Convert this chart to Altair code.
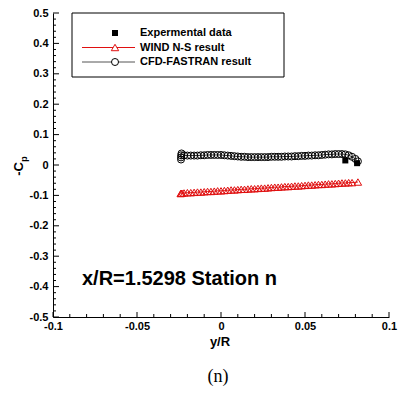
import altair as alt
import pandas as pd

W, H = 336, 304
FONT = "Liberation Sans"

# ---------------- data ----------------
cfd_x = [-0.0238, -0.0238, -0.0237, -0.0235,
         -0.022, -0.020, -0.018, -0.016, -0.014, -0.012, -0.010, -0.008, -0.006, -0.004,
         -0.002, 0.000, 0.002, 0.004, 0.006, 0.008, 0.010, 0.012, 0.014, 0.016, 0.018,
         0.020, 0.022, 0.024, 0.026, 0.028, 0.030, 0.032, 0.034, 0.036, 0.038, 0.040,
         0.042, 0.044, 0.046, 0.048, 0.050, 0.052, 0.054, 0.056, 0.058, 0.060, 0.062,
         0.064, 0.066, 0.068, 0.070, 0.072, 0.074, 0.076, 0.078, 0.080, 0.0815]
cfd_cp = [0.018, 0.025, 0.032, 0.038,
          0.032, 0.031, 0.031, 0.031, 0.031, 0.032, 0.032, 0.033, 0.033, 0.033,
          0.033, 0.033, 0.032, 0.031, 0.030, 0.029, 0.028, 0.027, 0.027, 0.026, 0.026,
          0.026, 0.026, 0.026, 0.026, 0.026, 0.027, 0.027, 0.027, 0.027, 0.028, 0.028,
          0.028, 0.029, 0.029, 0.030, 0.030, 0.031, 0.031, 0.032, 0.032, 0.033, 0.034,
          0.035, 0.035, 0.036, 0.036, 0.036, 0.035, 0.032, 0.027, 0.020, 0.012]

wind_x = [-0.0240, -0.0237, -0.0232,
          -0.022, -0.020, -0.018, -0.016, -0.014, -0.012, -0.010, -0.008, -0.006, -0.004,
          -0.002, 0.000, 0.002, 0.004, 0.006, 0.008, 0.010, 0.012, 0.014, 0.016, 0.018,
          0.020, 0.022, 0.024, 0.026, 0.028, 0.030, 0.032, 0.034, 0.036, 0.038, 0.040,
          0.042, 0.044, 0.046, 0.048, 0.050, 0.052, 0.054, 0.056, 0.058, 0.060, 0.062,
          0.064, 0.066, 0.068, 0.070, 0.072, 0.074, 0.076, 0.078, 0.0815]
wind_cp = [-0.094, -0.093, -0.093,
           -0.092, -0.091, -0.091, -0.090, -0.089, -0.089, -0.088, -0.087, -0.087, -0.086,
           -0.085, -0.085, -0.084, -0.083, -0.082, -0.082, -0.081, -0.080, -0.080, -0.079, -0.078,
           -0.078, -0.077, -0.076, -0.076, -0.075, -0.074, -0.073, -0.073, -0.072, -0.071, -0.071,
           -0.070, -0.069, -0.069, -0.068, -0.067, -0.066, -0.066, -0.065, -0.064, -0.064, -0.063,
           -0.062, -0.062, -0.061, -0.060, -0.059, -0.059, -0.058, -0.058, -0.056]

exp_x = [0.074, 0.081]
exp_cp = [0.015, 0.006]

x_major = [-0.1, -0.05, 0, 0.05, 0.1]
x_minor = [-0.09, -0.08, -0.07, -0.06, -0.04, -0.03, -0.02, -0.01,
           0.01, 0.02, 0.03, 0.04, 0.06, 0.07, 0.08, 0.09]
y_major = [-0.5, -0.4, -0.3, -0.2, -0.1, 0, 0.1, 0.2, 0.3, 0.4, 0.5]
y_minor = [-0.48, -0.46, -0.44, -0.42, -0.38, -0.36, -0.34, -0.32,
           -0.28, -0.26, -0.24, -0.22, -0.18, -0.16, -0.14, -0.12,
           -0.08, -0.06, -0.04, -0.02, 0.02, 0.04, 0.06, 0.08,
           0.12, 0.14, 0.16, 0.18, 0.22, 0.24, 0.26, 0.28,
           0.32, 0.34, 0.36, 0.38, 0.42, 0.44, 0.46, 0.48]

legend_labels = ["Expermental data", "WIND N-S result", "CFD-FASTRAN result"]
annotation = "x/R=1.5298 Station n"
x_title = "y/R"
y_title_main = "-C"
y_title_sub = "p"
caption = "(n)"

# ---------------- frames ----------------
cfd = pd.DataFrame({"x": cfd_x, "y": cfd_cp, "i": list(range(len(cfd_x)))})
wind = pd.DataFrame({"x": wind_x, "y": wind_cp, "i": list(range(len(wind_x)))})
expd = pd.DataFrame({"x": exp_x, "y": exp_cp})
one = pd.DataFrame({"k": [0]})

xs = alt.Scale(domain=[-0.1, 0.1], nice=False, zero=False)
ys = alt.Scale(domain=[-0.5, 0.5], nice=False, zero=False)

xaxis = alt.Axis(values=x_major, labelExpr="toString(datum.value)", title=None,
                 ticks=False, tickSize=0, grid=False, labelPadding=3,
                 labelFont=FONT, labelFontWeight="bold", labelFontSize=11,
                 labelColor="black", domainColor="black", domainWidth=1,
                 labelFlush=False, labelOverlap=False)
yaxis = alt.Axis(values=y_major, labelExpr="toString(datum.value)", title=None,
                 ticks=False, tickSize=0, grid=False, labelPadding=5,
                 labelFont=FONT, labelFontWeight="bold", labelFontSize=11,
                 labelColor="black", domainColor="black", domainWidth=1,
                 labelFlush=False, labelOverlap=False)

X = alt.X("x:Q", scale=xs, axis=xaxis)
Y = alt.Y("y:Q", scale=ys, axis=yaxis)

RED = "#e01010"

wind_line = alt.Chart(wind).mark_line(color=RED, strokeWidth=1).encode(
    x=X, y=Y, order="i:Q")
wind_pts = alt.Chart(wind).mark_point(shape="triangle-up", filled=False, color=RED,
                                      size=55, strokeWidth=1, opacity=1).encode(x=X, y=Y)
cfd_line = alt.Chart(cfd).mark_line(color="#333333", strokeWidth=1).encode(
    x=X, y=Y, order="i:Q")
cfd_pts = alt.Chart(cfd).mark_point(shape="circle", filled=False, color="black",
                                    size=49, strokeWidth=1, opacity=1).encode(x=X, y=Y)
exp_pts = alt.Chart(expd).mark_point(shape="square", filled=True, color="black",
                                     size=36, opacity=1).encode(x=X, y=Y)

# inward ticks
xt_major = alt.Chart(pd.DataFrame({"x": x_major})).mark_rule(color="black", strokeWidth=1).encode(
    x=X, y=alt.value(H), y2=alt.value(H - 5))
xt_minor = alt.Chart(pd.DataFrame({"x": x_minor})).mark_rule(color="black", strokeWidth=1).encode(
    x=X, y=alt.value(H), y2=alt.value(H - 3))
yt_major = alt.Chart(pd.DataFrame({"y": y_major})).mark_rule(color="black", strokeWidth=1).encode(
    y=Y, x=alt.value(0), x2=alt.value(6))
yt_minor = alt.Chart(pd.DataFrame({"y": y_minor})).mark_rule(color="black", strokeWidth=1).encode(
    y=Y, x=alt.value(0), x2=alt.value(3))

# legend
LX0, LX1, LY0, LY1 = 19, 231, 0, 64
rows = [20, 34.5, 49]
leg_box = alt.Chart(one).mark_rect(fill="white", stroke="black", strokeWidth=1).encode(
    x=alt.value(LX0), x2=alt.value(LX1), y=alt.value(LY0), y2=alt.value(LY1))
leg_sq = alt.Chart(one).mark_point(shape="square", filled=True, color="black", size=36, opacity=1).encode(
    x=alt.value(62), y=alt.value(rows[0]))
leg_l2 = alt.Chart(one).mark_rule(color=RED, strokeWidth=1).encode(
    x=alt.value(29), x2=alt.value(82), y=alt.value(rows[1]))
leg_t2 = alt.Chart(one).mark_point(shape="triangle-up", filled=True, fill="white", stroke=RED,
                                   size=55, strokeWidth=1, opacity=1).encode(
    x=alt.value(62), y=alt.value(rows[1]))
leg_l3 = alt.Chart(one).mark_rule(color="#555555", strokeWidth=1).encode(
    x=alt.value(29), x2=alt.value(82), y=alt.value(rows[2]))
leg_c3 = alt.Chart(one).mark_point(shape="circle", filled=True, fill="white", stroke="black",
                                   size=49, strokeWidth=1, opacity=1).encode(
    x=alt.value(62), y=alt.value(rows[2]))
leg_txt = [
    alt.Chart(one).mark_text(text=lab, font=FONT, fontWeight="bold", fontSize=11,
                             align="left", baseline="middle", color="black").encode(
        x=alt.value(87), y=alt.value(r))
    for lab, r in zip(legend_labels, rows)
]

ann = alt.Chart(one).mark_text(text=annotation, font=FONT, fontWeight="bold", fontSize=20,
                               align="left", baseline="middle", color="black").encode(
    x=alt.value(29), y=alt.value(266))
xtitle = alt.Chart(one).mark_text(text=x_title, font=FONT, fontWeight="bold", fontSize=13,
                                  align="center", baseline="middle", color="black").encode(
    x=alt.value(167), y=alt.value(329))
ytitle1 = alt.Chart(one).mark_text(text=y_title_main, font=FONT, fontWeight="bold", fontSize=13,
                                   align="center", baseline="middle", angle=270, color="black").encode(
    x=alt.value(-34), y=alt.value(156))
ytitle2 = alt.Chart(one).mark_text(text=y_title_sub, font=FONT, fontWeight="bold", fontSize=9,
                                   align="center", baseline="middle", angle=270, color="black").encode(
    x=alt.value(-29), y=alt.value(146))
cap = alt.Chart(one).mark_text(text=caption, font="Liberation Serif", fontSize=18,
                               align="center", baseline="middle", color="black").encode(
    x=alt.value(165), y=alt.value(364))

chart = alt.layer(
    wind_line, wind_pts, cfd_line, cfd_pts, exp_pts,
    xt_major, xt_minor, yt_major, yt_minor,
    leg_box, leg_sq, leg_l2, leg_t2, leg_l3, leg_c3, *leg_txt,
    ann, xtitle, ytitle1, ytitle2, cap,
).properties(
    width=W, height=H,
    autosize=alt.AutoSizeParams(type="none"),
    padding={"left": 53, "top": 13, "right": 19, "bottom": 78},
    background="white",
).configure_view(stroke=None)

chart.save("out.html", embed_options={"renderer": "svg", "actions": False})
